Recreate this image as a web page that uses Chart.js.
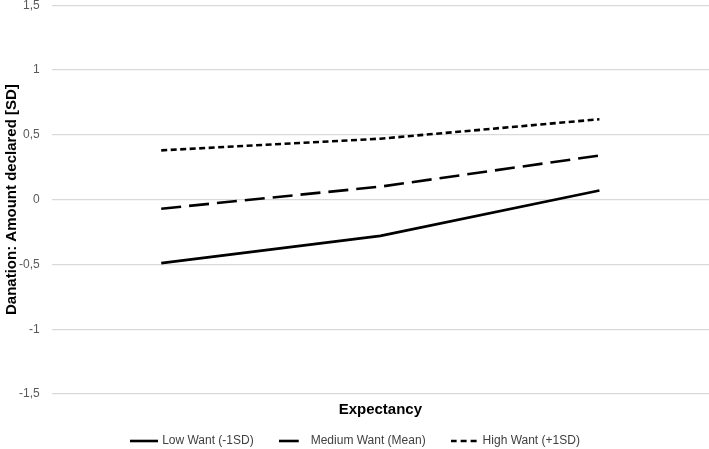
<!DOCTYPE html>
<html lang="en">
<head>
    <meta charset="UTF-8">
    <title>Danation by Expectancy</title>
    <script src="https://cdn.jsdelivr.net/npm/chart.js@4/dist/chart.umd.min.js"></script>
    <style>
        * { margin: 0; padding: 0; box-sizing: border-box; }
        body { background: #fff; width: 709px; height: 449px; overflow: hidden; }
        /* canvas pulled up a bit so the top gridline sits near the edge like the original */
        .chart-box { position: relative; top: -14px; width: 709px; height: 463px; }
    </style>
</head>
<body>
    <div class="chart-box">
        <canvas id="lineChart"></canvas>
    </div>

    <script>
        // x categories have no visible labels in the original
        const categories = ['', '', ''];
        const lowWant = [-0.49, -0.28, 0.07];
        const mediumWant = [-0.07, 0.10, 0.34];
        const highWant = [0.38, 0.47, 0.62];
        const yTicks = [-1.5, -1, -0.5, 0, 0.5, 1, 1.5];

        const fontFamily = "'Liberation Sans', Arial, sans-serif";

        // small line samples for the legend (dash styles)
        function legendLine(dash) {
            const c = document.createElement('canvas');
            c.width = 28;
            c.height = 4;
            const g = c.getContext('2d');
            g.strokeStyle = '#000';
            g.lineWidth = 2.6;
            g.setLineDash(dash);
            g.beginPath();
            g.moveTo(0, 2);
            g.lineTo(28, 2);
            g.stroke();
            return c;
        }

        new Chart(document.getElementById('lineChart'), {
            type: 'line',
            data: {
                labels: categories,
                datasets: [
                    {
                        label: 'Low Want (-1SD)',
                        data: lowWant,
                        borderColor: '#000',
                        backgroundColor: '#000',
                        borderWidth: 2.6,
                        pointRadius: 0,
                        pointHoverRadius: 0,
                        pointStyle: legendLine([])
                    },
                    {
                        label: 'Medium Want (Mean)',
                        data: mediumWant,
                        borderColor: '#000',
                        backgroundColor: '#000',
                        borderWidth: 2.6,
                        borderDash: [20, 8],
                        pointRadius: 0,
                        pointHoverRadius: 0,
                        pointStyle: legendLine([20, 8])
                    },
                    {
                        label: 'High Want (+1SD)',
                        data: highWant,
                        borderColor: '#000',
                        backgroundColor: '#000',
                        borderWidth: 2.6,
                        borderDash: [6, 3.5],
                        pointRadius: 0,
                        pointHoverRadius: 0,
                        pointStyle: legendLine([6, 4])
                    }
                ]
            },
            options: {
                responsive: true,
                maintainAspectRatio: false,
                animation: false,
                layout: { padding: { top: 0, right: 0, left: 3, bottom: -8 } },
                scales: {
                    x: {
                        offset: true,
                        grid: { display: false, drawTicks: false },
                        border: { display: false },
                        ticks: { display: false },
                        title: {
                            display: true,
                            text: 'Expectancy',
                            color: '#000',
                            font: { family: fontFamily, size: 15, weight: 'bold' },
                            padding: { top: 7, bottom: -11 }
                        }
                    },
                    y: {
                        min: -1.5,
                        max: 1.5,
                        afterBuildTicks: (axis) => {
                            axis.ticks = yTicks.map(v => ({ value: v }));
                        },
                        grid: { color: '#d9d9d9', lineWidth: 1.3, drawTicks: false },
                        border: { display: false },
                        ticks: {
                            color: '#595959',
                            padding: 12,
                            font: { family: fontFamily, size: 12 },
                            callback: (v) => String(v).replace('.', ',')
                        },
                        title: {
                            display: true,
                            text: 'Danation: Amount declared [SD]',
                            color: '#000',
                            font: { family: fontFamily, size: 15, weight: 'bold' },
                            padding: { top: 0, bottom: -14 }
                        }
                    }
                },
                plugins: {
                    legend: {
                        position: 'bottom',
                        labels: {
                            usePointStyle: true,
                            pointStyleWidth: 24,
                            color: '#404040',
                            padding: 27,
                            font: { family: fontFamily, size: 12 }
                        }
                    },
                    tooltip: { enabled: false }
                }
            }
        });
    </script>
</body>
</html>
